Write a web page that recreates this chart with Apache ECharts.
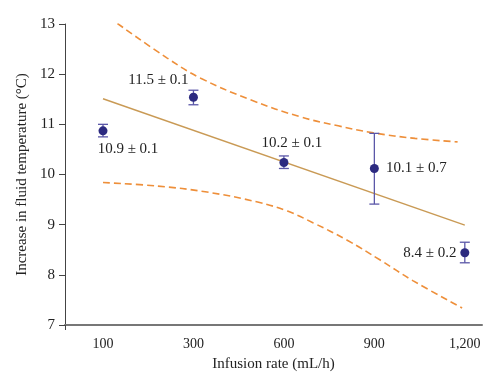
<!DOCTYPE html>
<html><head><meta charset="utf-8">
<script src="https://cdn.jsdelivr.net/npm/echarts@6/dist/echarts.min.js"></script>
<style>html,body{margin:0;padding:0;background:#fff}#c{width:500px;height:390px}</style>
</head><body><div id="c"></div>
<script>
const categories = ['100', '300', '600', '900', '1,200'];
const means = [10.87, 11.54, 10.24, 10.12, 8.44];
const errLow = [10.75, 11.39, 10.12, 9.41, 8.24];
const errHigh = [11.0, 11.68, 10.37, 10.82, 8.65];
const pointLabels = ['10.9 \u00b1 0.1', '11.5 \u00b1 0.1', '10.2 \u00b1 0.1', '10.1 \u00b1 0.7', '8.4 \u00b1 0.2'];
const regression = [[0, 11.51], [4, 8.99]];
const upperBand = [[0.16, 13.01], [0.71, 12.32], [1.08, 11.92], [1.63, 11.49], [2.18, 11.15], [2.6, 10.97], [2.99, 10.83], [3.45, 10.72], [3.92, 10.65]];
const lowerBand = [[0, 9.84], [0.60, 9.77], [1.15, 9.65], [1.71, 9.45], [2.04, 9.27], [2.32, 9.04], [2.70, 8.69], [3.06, 8.30], [3.43, 7.88], [3.97, 7.34]];
const yTicks = [7, 8, 9, 10, 11, 12, 13];

const FONT = 'Liberation Serif';
const labelOffsets = [[25, 18], [-35, -17], [8, -19], [42, 0], [-35, 0]];

const chart = echarts.init(document.getElementById('c'), null, {renderer: 'canvas'});
const idx = categories.map((c, i) => i);
const xMin = -0.42;
chart.setOption({
  animation: false,
  grid: {left: 65, right: 18, top: 24, bottom: 65},
  xAxis: {
    type: 'value', min: xMin, max: 4.19,
    splitLine: {show: false},
    axisLine: {show: true, onZero: false, lineStyle: {color: '#777', width: 2}},
    axisTick: {show: true, customValues: [xMin], length: 5, lineStyle: {color: '#444', width: 1}},
    axisLabel: {customValues: idx, formatter: v => categories[Math.round(v)], fontFamily: FONT, fontSize: 14, color: '#222', margin: 12},
    name: 'Infusion rate (mL/h)', nameLocation: 'middle', nameGap: 32,
    nameTextStyle: {fontFamily: FONT, fontSize: 15, color: '#222'}
  },
  yAxis: {
    type: 'value', min: yTicks[0], max: yTicks[yTicks.length - 1], interval: 1,
    splitLine: {show: false},
    axisLine: {show: true, onZero: false, lineStyle: {color: '#444', width: 1}},
    axisTick: {show: true, length: 6, lineStyle: {color: '#444'}},
    axisLabel: {fontFamily: FONT, fontSize: 15, color: '#222', margin: 10},
    name: 'Increase in fluid temperature (\u00b0C)', nameLocation: 'middle', nameGap: 34,
    nameTextStyle: {fontFamily: FONT, fontSize: 15, color: '#222'}
  },
  series: [
    {type: 'line', data: upperBand, smooth: 0.4, showSymbol: false, lineStyle: {color: '#EE8F3A', width: 1.6, type: [7, 4]}, z: 2},
    {type: 'line', data: lowerBand, smooth: 0.4, showSymbol: false, lineStyle: {color: '#EE8F3A', width: 1.6, type: [7, 4]}, z: 2},
    {type: 'line', data: regression, showSymbol: false, lineStyle: {color: '#C99A55', width: 1.4}, z: 3},
    {
      type: 'custom', z: 4,
      data: idx.map(i => [i, errLow[i], errHigh[i]]),
      renderItem: function (params, api) {
        const x = api.value(0);
        const lo = api.coord([x, api.value(1)]);
        const hi = api.coord([x, api.value(2)]);
        const hw = 5;
        const style = {stroke: '#5B57A8', lineWidth: 1.3};
        return {type: 'group', children: [
          {type: 'line', shape: {x1: lo[0], y1: lo[1], x2: hi[0], y2: hi[1]}, style},
          {type: 'line', shape: {x1: lo[0] - hw, y1: lo[1], x2: lo[0] + hw, y2: lo[1]}, style},
          {type: 'line', shape: {x1: hi[0] - hw, y1: hi[1], x2: hi[0] + hw, y2: hi[1]}, style}
        ]};
      }
    },
    {
      type: 'scatter', z: 5, symbolSize: 9,
      itemStyle: {color: '#2C2A80', opacity: 1},
      data: idx.map(i => ({
        value: [i, means[i]],
        label: {show: true, position: 'inside', offset: labelOffsets[i], formatter: pointLabels[i],
          fontFamily: FONT, fontSize: 15, color: '#222'}
      }))
    }
  ]
});
</script></body></html>
